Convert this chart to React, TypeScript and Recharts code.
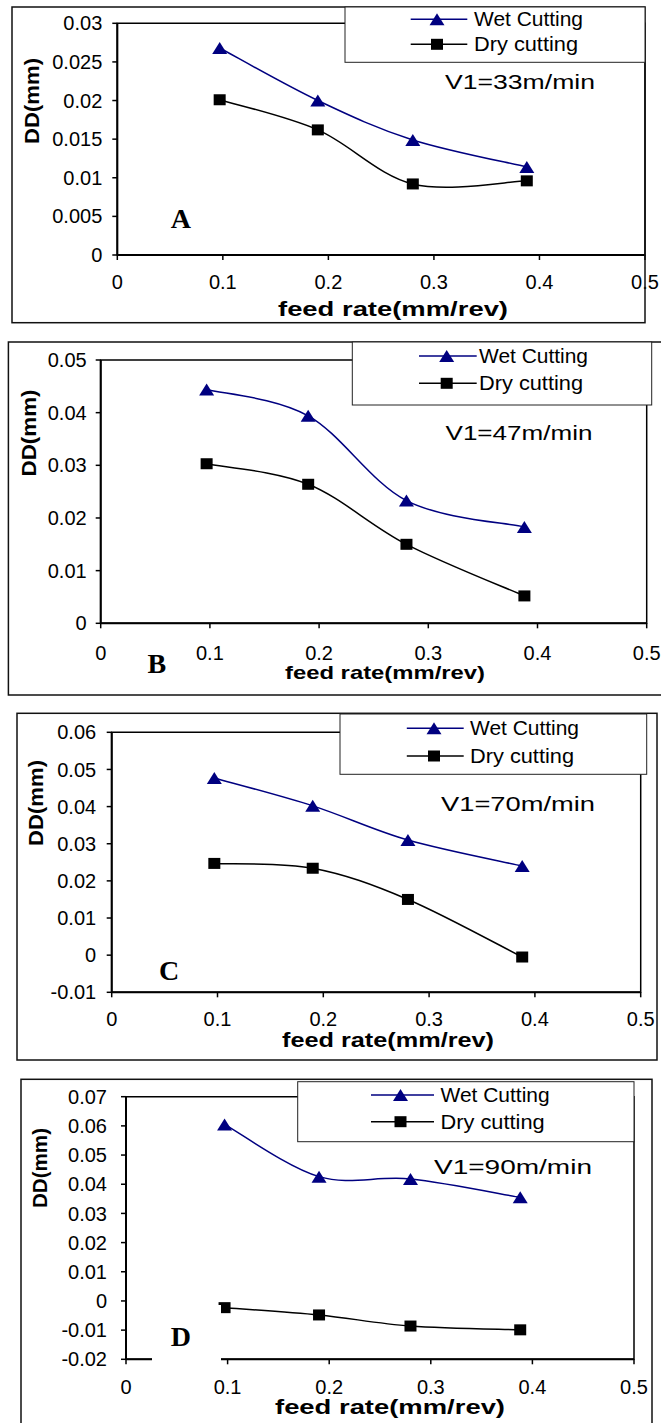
import React from "react";
import { LineChart, Line, XAxis, YAxis, ReferenceArea } from "recharts";

// feed rate (mm/rev) where each test was run
const feedRate = [0.097, 0.19, 0.28, 0.388];

// DD (mm)
const wetA = [0.0268, 0.02, 0.0149, 0.0114];
const dryA = [0.0201, 0.0162, 0.0092, 0.0096];
const wetB = [0.0444, 0.0394, 0.0233, 0.0183];
const dryB = [0.0303, 0.0264, 0.015, 0.0052];
const wetC = [0.0477, 0.0402, 0.031, 0.024];
const dryC = [0.0247, 0.0234, 0.015, -0.0005];
const wetD = [0.0605, 0.0426, 0.0418, 0.0355];
const dryD = [-0.0023, -0.0048, -0.0086, -0.0099];

const xTicks = [0, 0.1, 0.2, 0.3, 0.4, 0.5];
const yTicksA = [0, 0.005, 0.01, 0.015, 0.02, 0.025, 0.03];
const yTicksB = [0, 0.01, 0.02, 0.03, 0.04, 0.05];
const yTicksC = [-0.01, 0, 0.01, 0.02, 0.03, 0.04, 0.05, 0.06];
const yTicksD = [-0.02, -0.01, 0, 0.01, 0.02, 0.03, 0.04, 0.05, 0.06, 0.07];

const speeds = ["V1=33m/min", "V1=47m/min", "V1=70m/min", "V1=90m/min"];
const panelLetters = ["A", "B", "C", "D"];
const seriesNames = ["Wet Cutting", "Dry cutting"];

const SANS = "'Liberation Sans', Arial, sans-serif";
const SERIF = "'Liberation Serif', 'Times New Roman', serif";
const NAVY = "#000080";
const W = 661;
const X_AXIS_H = 40;

// Excel-style smoothed line (bezier through points, 1/6 tangent)
function excelSmooth(context: any) {
  let pts: number[][] = [];
  return {
    areaStart() {},
    areaEnd() {},
    lineStart() {
      pts = [];
    },
    point(x: number, y: number) {
      pts.push([+x, +y]);
    },
    lineEnd() {
      if (!pts.length) return;
      context.moveTo(pts[0][0], pts[0][1]);
      for (let i = 0; i < pts.length - 1; i++) {
        const p0 = pts[i - 1] || pts[i];
        const p1 = pts[i];
        const p2 = pts[i + 1];
        const p3 = pts[i + 2] || p2;
        context.bezierCurveTo(
          p1[0] + (p2[0] - p0[0]) / 6,
          p1[1] + (p2[1] - p0[1]) / 6,
          p2[0] - (p3[0] - p1[0]) / 6,
          p2[1] - (p3[1] - p1[1]) / 6,
          p2[0],
          p2[1],
        );
      }
    },
  };
}

function triPoints(cx: number, cy: number) {
  return `${cx},${cy - 6} ${cx - 7.5},${cy + 6} ${cx + 7.5},${cy + 6}`;
}

const renderTri = (p: any) => <polygon key={`t${p.index}`} points={triPoints(p.cx, p.cy)} fill={NAVY} />;
const renderSq = (p: any) => <rect key={`s${p.index}`} x={p.cx - 6} y={p.cy - 5.5} width={12} height={11} fill="#000" />;

type Panel = {
  wet: number[];
  dry: number[];
  yTicks: number[];
  top: number;
  height: number;
  plotTop: number;
  plotBottom: number;
  plotLeft: number;
  plotRight: number;
  xTickMargin: number;
  yTickMargin: number;
  frame: [number, number, number, number];
  legendBox: [number, number, number, number];
  legendRows: [number, number];
  legendLine: [number, number, number];
  legendText: number;
  speed: [number, number, number];
  title: [number, number, number, number];
  letter: [number, number];
  yLabel: [number, number, number];
};

const PANELS: Panel[] = [
  {
    wet: wetA, dry: dryA, yTicks: yTicksA,
    top: 7, height: 316, plotTop: 23.3, plotBottom: 255, plotLeft: 117.3, plotRight: 645,
    xTickMargin: 14.6, yTickMargin: 10,
    frame: [12, 7, 645, 322.7],
    legendBox: [345, 7, 645, 62.3],
    legendRows: [19.3, 44.3],
    legendLine: [410.7, 467.3, 437],
    legendText: 474,
    speed: [520, 81.7, 150],
    title: [393, 308.3, 230, 21],
    letter: [170.7, 228],
    yLabel: [31.6, 101, 86],
  },
  {
    wet: wetB, dry: dryB, yTicks: yTicksB,
    top: 342, height: 353, plotTop: 360, plotBottom: 623.3, plotLeft: 100.7, plotRight: 646.7,
    xTickMargin: 17, yTickMargin: 9,
    frame: [8.4, 342, 664, 695],
    legendBox: [352.3, 342, 651.7, 405],
    legendRows: [356, 383.3],
    legendLine: [419, 476.7, 446.7],
    legendText: 479,
    speed: [519, 432.7, 147],
    title: [385, 672.5, 200, 19],
    letter: [147.6, 673],
    yLabel: [28.7, 433, 87],
  },
  {
    wet: wetC, dry: dryC, yTicks: yTicksC,
    top: 713, height: 347, plotTop: 732.3, plotBottom: 992.3, plotLeft: 111.7, plotRight: 640.7,
    xTickMargin: 14.5, yTickMargin: 10.5,
    frame: [17, 713.3, 657, 1060],
    legendBox: [340, 714, 646.7, 774.3],
    legendRows: [728.3, 756],
    legendLine: [406.8, 463.7, 434],
    legendText: 470,
    speed: [518, 803.3, 154],
    title: [388, 1039.5, 212, 20],
    letter: [159, 980],
    yLabel: [35.8, 803, 86],
  },
  {
    wet: wetD, dry: dryD, yTicks: yTicksD,
    top: 1079, height: 344, plotTop: 1096.7, plotBottom: 1359.3, plotLeft: 126, plotRight: 634,
    xTickMargin: 15.5, yTickMargin: 14,
    frame: [21, 1079.3, 652, 1430],
    legendBox: [297.7, 1081.7, 634, 1141.7],
    legendRows: [1095, 1121.7],
    legendLine: [371, 434, 400.5],
    legendText: 440.6,
    speed: [513, 1166.7, 158],
    title: [390, 1406.5, 230, 20],
    letter: [170.7, 1346],
    yLabel: [40, 1168, 80],
  },
];

function PanelChart({ p }: { p: Panel }) {
  const data = feedRate.map((x, i) => ({ x, wet: p.wet[i], dry: p.dry[i] }));
  const yMin = p.yTicks[0];
  const yMax = p.yTicks[p.yTicks.length - 1];
  const tick = { fontSize: 20, fill: "#000", fontFamily: SANS };
  return (
    <div style={{ position: "absolute", left: 0, top: p.top }}>
      <LineChart
        width={W}
        height={p.height}
        data={data}
        margin={{
          top: p.plotTop - p.top,
          right: W - p.plotRight,
          left: 0,
          bottom: p.top + p.height - p.plotBottom - X_AXIS_H,
        }}
      >
        <XAxis
          dataKey="x"
          type="number"
          domain={[0, 0.5]}
          ticks={xTicks}
          interval={0}
          height={X_AXIS_H}
          tick={tick}
          tickSize={5}
          tickMargin={p.xTickMargin}
          tickFormatter={(v: number) => String(v)}
          axisLine={{ stroke: "#000", strokeWidth: 2 }}
          tickLine={{ stroke: "#000", strokeWidth: 1.5 }}
        />
        <YAxis
          type="number"
          domain={[yMin, yMax]}
          ticks={p.yTicks}
          interval={0}
          width={p.plotLeft}
          tick={tick}
          tickSize={5}
          tickMargin={p.yTickMargin}
          tickFormatter={(v: number) => String(v)}
          axisLine={{ stroke: "#000", strokeWidth: 2 }}
          tickLine={{ stroke: "#000", strokeWidth: 1.5 }}
        />
        <ReferenceArea x1={0} x2={0.5} y1={yMin} y2={yMax} fill="none" stroke="#000" strokeWidth={1.5} />
        <Line
          dataKey="wet"
          type={excelSmooth as any}
          stroke={NAVY}
          strokeWidth={1.5}
          dot={renderTri}
          activeDot={false}
          isAnimationActive={false}
        />
        <Line
          dataKey="dry"
          type={excelSmooth as any}
          stroke="#000"
          strokeWidth={1.5}
          dot={renderSq}
          activeDot={false}
          isAnimationActive={false}
        />
      </LineChart>
    </div>
  );
}

function Overlay() {
  return (
    <svg
      width={W}
      height={1423}
      style={{ position: "absolute", left: 0, top: 0, pointerEvents: "none" }}
    >
      {PANELS.map((p, i) => {
        const [fx1, fy1, fx2, fy2] = p.frame;
        const [lx1, ly1, lx2, ly2] = p.legendBox;
        const [s1, s2, sm] = p.legendLine;
        return (
          <g key={i}>
            <rect x={fx1} y={fy1} width={fx2 - fx1} height={fy2 - fy1} fill="none" stroke="#111" strokeWidth={1.5} />
            {i === 3 && <rect x={152} y={1305} width={69} height={58} fill="#fff" />}
            <rect x={lx1} y={ly1} width={lx2 - lx1} height={ly2 - ly1} fill="#fff" stroke="#222" strokeWidth={1} />
            <line x1={s1} x2={s2} y1={p.legendRows[0]} y2={p.legendRows[0]} stroke={NAVY} strokeWidth={1.5} />
            <polygon points={triPoints(sm, p.legendRows[0])} fill={NAVY} />
            <line x1={s1} x2={s2} y1={p.legendRows[1]} y2={p.legendRows[1]} stroke="#000" strokeWidth={1.5} />
            <rect x={sm - 6} y={p.legendRows[1] - 5.5} width={12} height={11} fill="#000" />
            {seriesNames.map((n, k) => (
              <text
                key={n}
                x={p.legendText}
                y={p.legendRows[k]}
                dy="0.35em"
                fontSize={20}
                fontFamily={SANS}
                textLength={k === 0 ? 109 : 104}
                lengthAdjust="spacingAndGlyphs"
              >
                {n}
              </text>
            ))}
            <text
              x={p.speed[0] - p.speed[2] / 2}
              y={p.speed[1]}
              dy="0.35em"
              fontSize={21}
              fontFamily={SANS}
              textLength={p.speed[2]}
              lengthAdjust="spacingAndGlyphs"
            >
              {speeds[i]}
            </text>
            <text
              x={p.title[0] - p.title[2] / 2}
              y={p.title[1]}
              dy="0.35em"
              fontSize={p.title[3]}
              fontWeight="bold"
              fontFamily={SANS}
              textLength={p.title[2]}
              lengthAdjust="spacingAndGlyphs"
            >
              feed rate(mm/rev)
            </text>
            <text x={p.letter[0]} y={p.letter[1]} fontSize={28} fontWeight="bold" fontFamily={SERIF}>
              {panelLetters[i]}
            </text>
            <text
              transform={`translate(${p.yLabel[0]},${p.yLabel[1]}) rotate(-90)`}
              x={-p.yLabel[2] / 2}
              y={0}
              dy="0.35em"
              fontSize={20}
              fontWeight="bold"
              fontFamily={SANS}
              textLength={p.yLabel[2]}
              lengthAdjust="spacingAndGlyphs"
            >
              DD(mm)
            </text>
          </g>
        );
      })}
    </svg>
  );
}

export default function App() {
  return (
    <div style={{ position: "relative", width: W, height: 1423, background: "#fff", overflow: "hidden" }}>
      <style>{`body{margin:0}`}</style>
      {PANELS.map((p, i) => (
        <PanelChart key={i} p={p} />
      ))}
      <Overlay />
    </div>
  );
}
